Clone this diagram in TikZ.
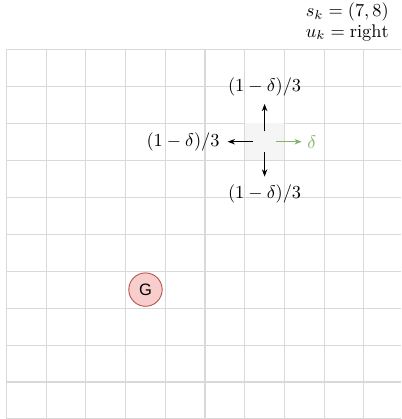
\documentclass[tikz,border=0pt]{standalone}
\usepackage{fontspec}
\newfontfamily\goalfont{Liberation Sans}
\usepackage{xcolor}
\usetikzlibrary{arrows.meta,positioning}
\definecolor{gridgray}{HTML}{D9D9D9}
\definecolor{cellgray}{HTML}{F5F5F5}
\definecolor{goalfill}{HTML}{F8CECC}
\definecolor{goaldraw}{HTML}{B85450}
\definecolor{slipgreen}{HTML}{82B366}
\begin{document}
\begin{tikzpicture}[x=21.64pt,y=-20.15pt,>={Stealth[length=4pt,width=3pt]},
  prob/.style={inner sep=0pt,outer sep=4.4pt},
  move/.style={->,line width=0.55pt},
  gridline/.style={gridgray,line width=0.6pt}]
\useasboundingbox (-0.164,-1.333) rectangle (9.937,10);
\foreach \i in {0,...,9}
  \draw[gridline] (\i,0) -- (\i,10);
\foreach \j in {0,...,10}
  \draw[gridline] (0,\j) -- (9.937,\j);
\node[fill=cellgray,minimum width=21.64pt,minimum height=20.15pt,inner sep=0pt] (cell) at (6.5,2.5) {};
\node[minimum width=11.8pt,minimum height=10.9pt,inner sep=0pt] (agent) at (6.5,2.5) {};
\node[prob] (up) at (6.5,1.01) {$(1-\delta)/3$};
\node[prob] (down) at (6.5,3.91) {$(1-\delta)/3$};
\node[prob] (left) at (4.446,2.5) {$(1-\delta)/3$};
\node[prob,outer sep=3pt,anchor=west,text=slipgreen] (slip) at (7.436,2.5) {$\delta$};
\node[circle,draw=goaldraw,fill=goalfill,line width=0.5pt,minimum size=18.2pt,inner sep=0pt,font=\goalfont\fontsize{9}{10}\selectfont] (goal) at (3.5,6.5) {G};
\node[align=right,anchor=east,inner sep=0pt] (state) at (9.635,-0.738) {$s_k=(7,8)$\\[-1pt]$u_k=\mathrm{right}$};
\draw[move] (agent) -- (up);
\draw[move] (agent) -- (down);
\draw[move] (agent) -- (left);
\draw[move,slipgreen] (agent) -- (slip);
\end{tikzpicture}
\end{document}
